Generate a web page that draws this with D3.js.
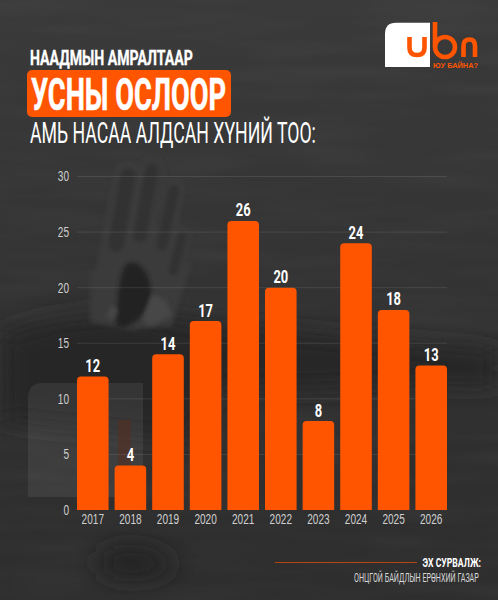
<!DOCTYPE html>
<html>
<head>
<meta charset="utf-8">
<script src="https://cdnjs.cloudflare.com/ajax/libs/d3/7.8.5/d3.min.js"></script>
<style>
html,body{margin:0;padding:0;background:#333}
svg{display:block}
text{font-family:"Liberation Sans Narrow","Roboto",sans-serif}
</style>
</head>
<body>
<div id="chart"></div>
<script>
// data
var years = ["2017","2018","2019","2020","2021","2022","2023","2024","2025","2026"];
var deaths = [12,4,14,17,26,20,8,24,18,13];
var yTicks = [0,5,10,15,20,25,30];

var W = 498, H = 600;
var orange = "#ff5500";

var svg = d3.select("#chart").append("svg").attr("width",W).attr("height",H);
var defs = svg.append("defs");

function blur(id,dev){
  defs.append("filter").attr("id",id).attr("filterUnits","userSpaceOnUse")
    .attr("x",-50).attr("y",-50).attr("width",W+100).attr("height",H+100)
    .append("feGaussianBlur").attr("stdDeviation",dev);
}
blur("soft",2);
blur("softer",12);

// background
var bg = defs.append("linearGradient").attr("id","bg").attr("x1",0).attr("x2",0).attr("y1",0).attr("y2",1);
bg.append("stop").attr("offset",0).attr("stop-color","#3a3a3a");
bg.append("stop").attr("offset",.4).attr("stop-color","#343434");
bg.append("stop").attr("offset",.75).attr("stop-color","#2f2f2f");
bg.append("stop").attr("offset",1).attr("stop-color","#2e2e2e");
svg.append("rect").attr("width",W).attr("height",H).attr("fill","url(#bg)");

// faint streaks in the water
var grain = defs.append("filter").attr("id","grain").attr("filterUnits","userSpaceOnUse")
  .attr("x",0).attr("y",0).attr("width",W).attr("height",H);
grain.append("feTurbulence").attr("type","fractalNoise").attr("baseFrequency","0.008 0.06").attr("numOctaves",2).attr("seed",4);
grain.append("feColorMatrix").attr("values","0 0 0 0 .5  0 0 0 0 .5  0 0 0 0 .5  1.2 0 0 0 -.45");
svg.append("rect").attr("width",W).attr("height",H).attr("filter","url(#grain)").attr("opacity",.07);

// background photo, hand going under water
var photo = svg.append("g");
photo.append("path").attr("filter","url(#softer)").attr("fill","#262626")
  .attr("d","M0 335C60 312 130 308 180 322C260 330 380 342 498 352L498 385C380 380 300 395 220 385L190 440L0 420Z");
var fingers = [
  {a:[106,300],b:[128,176],w:30},
  {a:[130,290],b:[152,170],w:26},
  {a:[152,290],b:[174,190],w:22},
  {a:[166,300],b:[182,236],w:18}
];
var hand = photo.append("g").attr("filter","url(#soft)");
hand.append("path").attr("fill","#3b3b3b")
  .attr("d","M90 322L90 270L192 262L180 300L172 326L130 330Z");
hand.selectAll("line.f").data(fingers).join("line").attr("class","f")
  .attr("x1",function(d){return d.a[0]}).attr("y1",function(d){return d.a[1]})
  .attr("x2",function(d){return d.b[0]}).attr("y2",function(d){return d.b[1]})
  .attr("stroke-width",function(d){return d.w}).attr("stroke","#3b3b3b").attr("stroke-linecap","round");
// darker fronts of the fingers
hand.selectAll("line.t").data(fingers).join("line").attr("class","t")
  .attr("x1",function(d){return d.a[0]+(d.b[0]-d.a[0])*.45}).attr("y1",function(d){return d.a[1]+(d.b[1]-d.a[1])*.45})
  .attr("x2",function(d){return d.b[0]}).attr("y2",function(d){return d.b[1]})
  .attr("stroke-width",function(d){return d.w*.5}).attr("stroke","#313131").attr("stroke-linecap","round");
photo.append("path").attr("filter","url(#soft)").attr("fill","#232323")
  .attr("d","M128 263C138 260 150 270 151 292C151 308 140 322 124 328L116 326C118 300 118 272 128 263Z");
photo.append("path").attr("filter","url(#soft)").attr("fill","#474747")
  .attr("d","M152 294L166 300L172 316L150 326L142 320Z");
photo.append("path").attr("filter","url(#soft)").attr("fill","#474747")
  .attr("d","M112 305L118 310L112 320L106 316Z");
photo.append("path").attr("filter","url(#softer)").attr("fill","#242424")
  .attr("d","M100 555C120 542 165 548 175 565C160 580 115 582 100 570Z");
// ghost panel left of the bars
photo.append("path").attr("fill","#fff").attr("opacity",.07)
  .attr("d","M28 497V398Q28 383 43 383H143V497Z");
photo.append("rect").attr("x",118).attr("y",420).attr("width",13).attr("height",46).attr("fill","#5a2c1c").attr("opacity",.5);

// scales
var x = d3.scaleBand().domain(years).range([77,447]).paddingInner(.16).paddingOuter(0);
var y = d3.scaleLinear().domain([0,30]).range([510,176.5]);

// grid
svg.append("g").selectAll("line").data(yTicks.slice(1)).join("line")
  .attr("x1",x.range()[0]).attr("x2",x.range()[1])
  .attr("y1",function(d){return y(d)}).attr("y2",function(d){return y(d)})
  .attr("stroke","#fff").attr("stroke-opacity",.13).attr("stroke-width",.8);

// squeezes a string to a width so the narrow font looks like the poster's display face
function fit(px,xPos,yPos,width,weight,fill,str,family){
  var t = svg.append("text").attr("font-size",px).attr("font-weight",weight).attr("fill",fill).text(str);
  if(family) t.style("font-family",family);
  var k = width / t.node().getComputedTextLength();
  t.attr("transform","translate("+xPos+","+yPos+") scale("+k+",1)");
  return t;
}

// axis labels
var sq = .72;
var yAxis = d3.axisLeft(y).tickValues(yTicks).tickSize(0).tickPadding(8);
var gy = svg.append("g").attr("transform","translate(77,0)").call(yAxis);
gy.select(".domain").remove();
gy.selectAll("text").style("font-family",'"Liberation Sans Narrow",sans-serif')
  .attr("font-size",14).attr("fill","#cfcfcf").attr("x",-8/sq).attr("transform","scale("+sq+",1)");

var xAxis = d3.axisBottom(x).tickSize(0).tickPadding(4);
var gx = svg.append("g").attr("transform","translate(0,510)").call(xAxis);
gx.select(".domain").remove();
gx.selectAll("text").style("font-family",'"Liberation Sans Narrow",sans-serif')
  .attr("font-size",14).attr("fill","#cfcfcf").attr("transform","scale("+sq+",1)");

// bars, top corners rounded
function barPath(d,i){
  var x0 = x(years[i]), x1 = x0 + x.bandwidth(), top = y(d), base = y(0), r = 4;
  var p = d3.path();
  p.moveTo(x0,base);
  p.lineTo(x0,top+r);
  p.quadraticCurveTo(x0,top,x0+r,top);
  p.lineTo(x1-r,top);
  p.quadraticCurveTo(x1,top,x1,top+r);
  p.lineTo(x1,base);
  p.closePath();
  return p.toString();
}
svg.append("g").selectAll("path").data(deaths).join("path").attr("d",barPath).attr("fill",orange);

// value labels
svg.append("g").selectAll("text").data(deaths).join("text")
  .attr("transform",function(d,i){
    return "translate("+(x(years[i])+x.bandwidth()/2)+","+(y(d)-4.5)+") scale(.72,1)";
  })
  .attr("text-anchor","middle").attr("font-size",18).attr("font-weight",700).attr("fill","#fff")
  .text(function(d){return d});

// title block
fit(21,30,65,163,700,"#fff","НААДМЫН АМРАЛТААР").attr("stroke","#fff").attr("stroke-width",.35);
svg.append("rect").attr("x",27).attr("y",70).attr("width",204).attr("height",47).attr("rx",5).attr("fill",orange);
fit(44,31,110,195,700,"#fff","УСНЫ ОСЛООР").attr("stroke","#fff").attr("stroke-width",.6);
fit(29,30,143,286,400,"#fff","АМЬ НАСАА АЛДСАН ХҮНИЙ ТОО:");

// logo
var logo = svg.append("g");
logo.append("path").attr("fill","#fff").attr("d","M385 67V34Q385 22.7 396 22.7H430V67Z");
var mark = logo.append("g").attr("fill","none").attr("stroke",orange).attr("stroke-width",4.6);
mark.append("path").attr("d","M409.5 37V48Q409.5 55 417 55Q424.5 55 424.5 48V37");
mark.append("path").attr("d","M435 22V47");
mark.append("circle").attr("cx",445).attr("cy",47).attr("r",10);
mark.append("path").attr("d","M463.5 57V46Q463.5 39.5 469.5 39.5Q475 39.5 475 46V57");
fit(6.6,433,68,45,700,orange,"ЮУ БАЙНА?","Liberation Sans");

// source
svg.append("line").attr("x1",275).attr("x2",417).attr("y1",562.5).attr("y2",562.5).attr("stroke",orange).attr("stroke-opacity",.65);
fit(13.5,422.5,566.5,58.5,700,"#fff","ЭХ СУРВАЛЖ:");
fit(12,354,582,125,400,"#d8d8d8","ОНЦГОЙ БАЙДЛЫН ЕРӨНХИЙ ГАЗАР");
</script>
</body>
</html>
